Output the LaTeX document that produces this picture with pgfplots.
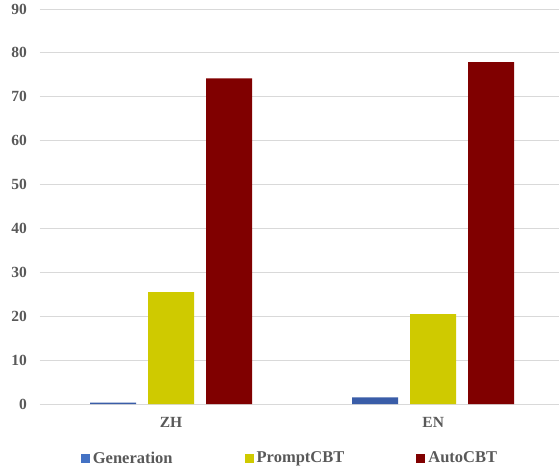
\documentclass[border=0pt]{standalone}
\usepackage{pgfplots}
\pgfplotsset{compat=1.18}
\usetikzlibrary{calc}
\usepackage{fontspec}
\setmainfont{Liberation Serif}
\definecolor{gen}{HTML}{3A5DA8}
\definecolor{genleg}{HTML}{4472C4}
\definecolor{prm}{HTML}{CFCA00}
\definecolor{aut}{HTML}{800000}
\definecolor{gridc}{HTML}{D9D9D9}
\definecolor{labgrey}{HTML}{595959}
\begin{document}
\begin{tikzpicture}
\begin{axis}[name=ax,
  scale only axis, width=519pt, height=395pt,
  xmin=-0.5, xmax=1.48, ymin=0, ymax=90,
  ytick={0,10,...,90}, xtick={0,1}, xticklabels={ZH,EN},
  major tick length=0pt,
  ymajorgrids, grid style={draw=gridc, line width=0.8pt},
  axis x line*=bottom, axis y line*=left,
  x axis line style={draw=gridc, line width=0.8pt},
  y axis line style={draw=none},
  ticklabel style={font=\bfseries\fontsize{15.5}{15.5}\selectfont, text=labgrey},
  /pgf/number format/assume math mode=true,
  yticklabel style={xshift=-9.5pt},
  xticklabel style={yshift=-10pt},
  legend style={at={(0.4817,-0.137)}, anchor=center, draw=none, fill=none,
    font=\bfseries\fontsize{16.5}{16.5}\selectfont, text=labgrey,
    /tikz/every even column/.append style={column sep=70pt}},
  legend columns=3,
  legend cell align=left,
]
\addplot[ybar, bar width=46pt, bar shift=-58pt, fill=gen, draw=none,
  legend image code/.code={\fill[genleg] (0pt,-4.5pt) rectangle (9pt,4.5pt); \path (10pt,0pt);}]
  coordinates {(0,0.3) (1,1.5)};
\addlegendentry{Generation}
\addplot[ybar, bar width=46pt, bar shift=0pt, fill=prm, draw=none,
  legend image code/.code={\fill[prm] (0pt,-4.5pt) rectangle (9pt,4.5pt); \path (10pt,0pt);}]
  coordinates {(0,25.5) (1,20.5)};
\addlegendentry{PromptCBT}
\addplot[ybar, bar width=46pt, bar shift=58pt, fill=aut, draw=none,
  legend image code/.code={\fill[aut] (0pt,-4.5pt) rectangle (9pt,4.5pt); \path (10pt,0pt);}]
  coordinates {(0,74.2) (1,77.9)};
\addlegendentry{AutoCBT}
\end{axis}
\pgfresetboundingbox
\path[use as bounding box] ($(ax.south west)+(-40pt,-67pt)$) rectangle ($(ax.north east)+(0pt,9pt)$);
\end{tikzpicture}
\end{document}
